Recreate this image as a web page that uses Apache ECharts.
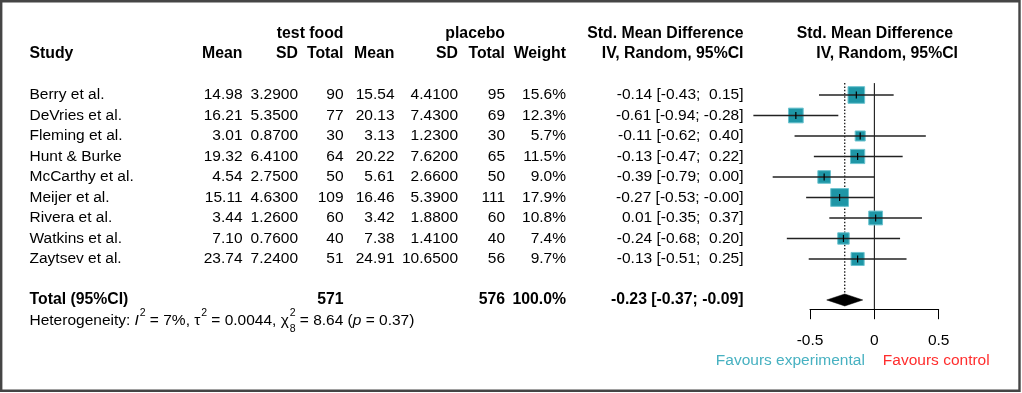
<!DOCTYPE html>
<html><head><meta charset="utf-8">
<script src="https://cdn.jsdelivr.net/npm/echarts@6/dist/echarts.min.js"></script>
<style>html,body{margin:0;padding:0;background:#fff}#c{width:1022px;height:393px}</style>
</head><body><div id="c"></div>
<script>
const studies = ["Berry et al.","DeVries et al.","Fleming et al.","Hunt & Burke","McCarthy et al.","Meijer et al.","Rivera et al.","Watkins et al.","Zaytsev et al."];
const expMean = [14.98,16.21,3.01,19.32,4.54,15.11,3.44,7.10,23.74];
const expSD = [3.29,5.35,0.87,6.41,2.75,4.63,1.26,0.76,7.24];
const expN = [90,77,30,64,50,109,60,40,51];
const ctlMean = [15.54,20.13,3.13,20.22,5.61,16.46,3.42,7.38,24.91];
const ctlSD = [4.41,7.43,1.23,7.62,2.66,5.39,1.88,1.41,10.65];
const ctlN = [95,69,30,65,50,111,60,40,56];
const weight = [15.6,12.3,5.7,11.5,9.0,17.9,10.8,7.4,9.7];
const smd = [-0.14,-0.61,-0.11,-0.13,-0.39,-0.27,0.01,-0.24,-0.13];
const ciLow = [-0.43,-0.94,-0.62,-0.47,-0.79,-0.53,-0.35,-0.68,-0.51];
const ciHigh = [0.15,-0.28,0.40,0.22,0.00,-0.004,0.37,0.20,0.25];
const totalExpN = 571, totalCtlN = 576, totalWeight = 100.0;
const pooledEst = -0.23, pooledLow = -0.37, pooledHigh = -0.09;
const xTicks = [-0.5, 0, 0.5];
const hetI2 = "7%", hetTau2 = "0.0044", hetDf = "8", hetQ = "8.64", hetP = "0.37";

const FF = "'Liberation Sans', Arial, sans-serif";
const FS = 15.5, FSB = 15.8, FSS = 10.5;
const TEAL = '#1e96a6', TEAL_EDGE = '#6cc3cf';
const COL = {study:29.5, m1:242.5, sd1:298, n1:343.5, m2:394.5, sd2:458, n2:505, w:566, ci:743.5, plotH1:953, plotH2:958};

function T(x, y, text, o) {
  o = o || {};
  const al = o.align || 'left';
  return {type:'text', x:x, y:y, style:{text:text, fill:o.color||'#000', fontSize:o.size||(o.bold?FSB:FS),
    fontFamily:FF, fontWeight:o.bold?'bold':'normal', fontStyle:o.italic?'italic':'normal',
    align:al, textAlign:al, verticalAlign:'middle', textVerticalAlign:'middle'}};
}
const mctx = document.createElement('canvas').getContext('2d');
function mw(s, size, italic, bold) {
  mctx.font = (italic?'italic ':'') + (bold?'bold ':'') + size + 'px ' + FF;
  return mctx.measureText(s).width;
}
function sgn(v){ const s = v.toFixed(2); return s[0]==='-' ? s : ' ' + s; }
function ciText(e,l,h){ return e.toFixed(2) + ' [' + sgn(l).trim() + '; ' + sgn(h) + ']'; }

const chart = echarts.init(document.getElementById('c'), null, {renderer:'canvas'});
const YMIN = -3, YMAX = 11.45;

const option = {
  animation:false,
  backgroundColor:'#fff',
  grid:{left:810, top:13, width:128.7, height:296.2, containLabel:false, outerBoundsMode:'none'},
  xAxis:{type:'value', min:-0.5, max:0.5, interval:0.5,
    axisLine:{show:true, onZero:false, lineStyle:{color:'#000', width:1}},
    axisTick:{show:true, length:10, lineStyle:{color:'#000', width:1}},
    axisLabel:{fontSize:FS, color:'#000', fontFamily:FF, margin:23.5,
      formatter:v => (Math.abs(v)<1e-9 ? '0' : String(v))},
    splitLine:{show:false}},
  yAxis:{type:'value', inverse:true, min:YMIN, max:YMAX, show:false},
  graphic:[{type:'rect', shape:{x:1.2, y:1.2, width:1018.3, height:389.6},
    style:{fill:'none', stroke:'#454545', lineWidth:2.4}, silent:true}],
  series:[
    { // table rows
      type:'custom', silent:true, clip:false,
      data: studies.map((s,i)=>[0, i+1]),
      renderItem:(params, api) => {
        const i = params.dataIndex;
        const y = api.coord([0, api.value(1)])[1];
        return {type:'group', children:[
          T(COL.study, y, studies[i]),
          T(COL.m1, y, expMean[i].toFixed(2), {align:'right'}),
          T(COL.sd1, y, expSD[i].toFixed(4), {align:'right'}),
          T(COL.n1, y, String(expN[i]), {align:'right'}),
          T(COL.m2, y, ctlMean[i].toFixed(2), {align:'right'}),
          T(COL.sd2, y, ctlSD[i].toFixed(4), {align:'right'}),
          T(COL.n2, y, String(ctlN[i]), {align:'right'}),
          T(COL.w, y, weight[i].toFixed(1)+'%', {align:'right'}),
          T(COL.ci, y, ciText(smd[i], ciLow[i], ciHigh[i]), {align:'right'})
        ]};
      }
    },
    { // headers, totals, reference lines, diamond, labels
      type:'custom', silent:true, clip:false,
      data:[[0,0]],
      renderItem:(params, api) => {
        const yr = r => api.coord([0, r])[1];
        const x0 = api.coord([0, 0])[0];
        const xe = api.coord([pooledEst, 0])[0];
        const xl = api.coord([pooledLow, 0])[0];
        const xh = api.coord([pooledHigh, 0])[0];
        const yh1 = yr(-2), yh2 = yr(-1), yt = yr(11), yhet = yr(12), yAx = yr(YMAX), yTop = yr(0.42);
        const ch = [];
        ch.push(T(COL.n1, yh1, 'test food', {bold:true, align:'right'}));
        ch.push(T(COL.n2, yh1, 'placebo', {bold:true, align:'right'}));
        ch.push(T(COL.ci, yh1, 'Std. Mean Difference', {bold:true, align:'right'}));
        ch.push(T(COL.plotH1, yh1, 'Std. Mean Difference', {bold:true, align:'right'}));
        ch.push(T(COL.study, yh2, 'Study', {bold:true}));
        ch.push(T(COL.m1, yh2, 'Mean', {bold:true, align:'right'}));
        ch.push(T(COL.sd1, yh2, 'SD', {bold:true, align:'right'}));
        ch.push(T(COL.n1, yh2, 'Total', {bold:true, align:'right'}));
        ch.push(T(COL.m2, yh2, 'Mean', {bold:true, align:'right'}));
        ch.push(T(COL.sd2, yh2, 'SD', {bold:true, align:'right'}));
        ch.push(T(COL.n2, yh2, 'Total', {bold:true, align:'right'}));
        ch.push(T(COL.w, yh2, 'Weight', {bold:true, align:'right'}));
        ch.push(T(COL.ci, yh2, 'IV, Random, 95%CI', {bold:true, align:'right'}));
        ch.push(T(COL.plotH2, yh2, 'IV, Random, 95%CI', {bold:true, align:'right'}));
        ch.push(T(COL.study, yt, 'Total (95%CI)', {bold:true}));
        ch.push(T(COL.n1, yt, String(totalExpN), {bold:true, align:'right'}));
        ch.push(T(COL.n2, yt, String(totalCtlN), {bold:true, align:'right'}));
        ch.push(T(COL.w, yt, totalWeight.toFixed(1)+'%', {bold:true, align:'right'}));
        ch.push(T(COL.ci, yt, ciText(pooledEst, pooledLow, pooledHigh), {bold:true, align:'right'}));
        const pieces = [
          {t:'Heterogeneity: '}, {t:'I', it:true}, {t:'2', sup:true}, {t:' = '+hetI2+', \u03c4'}, {t:'2', sup:true},
          {t:' = '+hetTau2+', \u03c7'}, {t:'2', sup:true, sub:hetDf}, {t:' = '+hetQ+' ('}, {t:'p', it:true}, {t:' = '+hetP+')'}
        ];
        let x = COL.study;
        pieces.forEach(p => {
          if (p.sup) {
            ch.push(T(x+0.8, yhet-7, p.t, {size:FSS}));
            let w = mw(p.t, FSS);
            if (p.sub) { ch.push(T(x+0.8, yhet+8.5, p.sub, {size:FSS})); w = Math.max(w, mw(p.sub,FSS)); }
            x += w + 0.8;
          } else {
            ch.push(T(x, yhet, p.t, {italic:!!p.it}));
            x += mw(p.t, FS, !!p.it);
          }
        });
        ch.push({type:'line', shape:{x1:x0, y1:yTop, x2:x0, y2:yAx}, style:{stroke:'#000', lineWidth:1}});
        ch.push({type:'line', shape:{x1:xe, y1:yTop, x2:xe, y2:yt-6}, style:{stroke:'#000', lineWidth:1.2, lineDash:[1.5,1.8]}});
        ch.push({type:'polygon', shape:{points:[[xl,yt],[xe,yt-6],[xh,yt],[xe,yt+6]]}, style:{fill:'#000', stroke:'#000', lineWidth:0.5}});
        ch.push(T(x0-9.5, yAx+52, 'Favours experimental', {align:'right', color:'#47b1c1'}));
        ch.push(T(x0+8.5, yAx+52, 'Favours control', {color:'#ff2d2d'}));
        return {type:'group', children:ch};
      }
    },
    { // study squares and CIs
      type:'custom', silent:true, clip:false,
      data: smd.map((e,i)=>[e, i+1, ciLow[i], ciHigh[i], weight[i]]),
      encode:{x:0, y:1},
      renderItem:(params, api) => {
        const r = api.value(1);
        const p = api.coord([api.value(0), r]);
        const l = api.coord([api.value(2), r]);
        const h = api.coord([api.value(3), r]);
        const s = 4.2 * Math.sqrt(api.value(4));
        return {type:'group', children:[
          {type:'rect', shape:{x:p[0]-s/2, y:p[1]-s/2, width:s, height:s}, style:{fill:TEAL, stroke:TEAL_EDGE, lineWidth:1}},
          {type:'line', shape:{x1:l[0], y1:p[1], x2:h[0], y2:p[1]}, style:{stroke:'#222', lineWidth:1.3}},
          {type:'line', shape:{x1:p[0], y1:p[1]-3.5, x2:p[0], y2:p[1]+3.5}, style:{stroke:'#000', lineWidth:1.2}}
        ]};
      }
    }
  ]
};
chart.setOption(option);
</script></body></html>
